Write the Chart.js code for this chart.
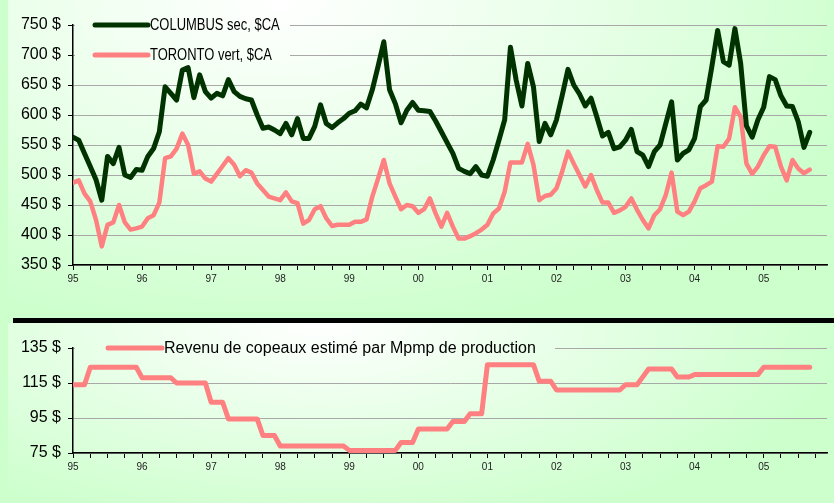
<!DOCTYPE html>
<html>
<head>
<meta charset="utf-8">
<script src="https://cdn.jsdelivr.net/npm/chart.js@4.4.0/dist/chart.umd.min.js"></script>
<style>
  html, body { margin: 0; padding: 0; }
  body {
    width: 834px; height: 503px; position: relative; overflow: hidden;
    background: #ccffcc;
    font-family: "Liberation Sans", Arial, sans-serif;
  }
  .panel { position: absolute; left: 8px; width: 826px; }
  #topPanel {
    top: 0; height: 312px;
    background: radial-gradient(ellipse 75% 110% at 33% 0%, #ffffff 0%, #eaffea 45%, #ccffcc 100%);
  }
  #bottomPanel {
    top: 323px; height: 180px;
    background: radial-gradient(ellipse 65% 120% at 38% 0%, #ffffff 0%, #eaffea 40%, #ccffcc 100%);
  }
  #bar { position: absolute; left: 13px; top: 318px; width: 821px; height: 5px; background: #000; }
  canvas { position: absolute; left: 0; }
  #prices { top: 0; }
  #revenue { top: 300px; }
</style>
</head>
<body>
<div class="panel" id="topPanel"></div>
<div class="panel" id="bottomPanel"></div>
<div id="bar"></div>
<canvas id="prices" width="834" height="310"></canvas>
<canvas id="revenue" width="834" height="203"></canvas>
<script>
// monthly data, Jan 1995 .. Sep 2005
const YEAR_LABELS = ["95", "96", "97", "98", "99", "00", "01", "02", "03", "04", "05"];

const COLUMBUS = [
  563, 558, 536, 514, 492, 458, 531, 519, 546, 500, 496, 509,
  508, 531, 544, 572, 647, 636, 625, 675, 679, 629, 667, 639,
  628, 636, 632, 659, 639, 631, 627, 625, 600, 578, 580, 575,
  569, 586, 567, 594, 561, 561, 581, 617, 586, 579, 587, 594,
  603, 607, 618, 612, 642, 681, 722, 642, 619, 587, 608, 621,
  608, 607, 606, 590, 572, 554, 536, 511, 506, 502, 514, 500,
  498, 525, 558, 592, 713, 658, 615, 686, 647, 556, 586, 567,
  592, 633, 676, 650, 635, 615, 628, 597, 565, 571, 544, 547,
  558, 576, 539, 533, 514, 539, 550, 586, 622, 525, 536, 542,
  561, 614, 625, 681, 741, 689, 683, 744, 686, 582, 563, 592,
  613, 664, 659, 632, 615, 614, 589, 546, 571
];

const TORONTO = [
  487, 491, 469, 456, 425, 381, 417, 421, 450, 421, 409, 411,
  414, 428, 433, 454, 528, 531, 544, 569, 550, 502, 506, 494,
  489, 502, 515, 528, 517, 498, 508, 504, 486, 475, 464, 461,
  458, 471, 456, 453, 419, 425, 443, 448, 428, 415, 417, 417,
  417, 422, 422, 426, 464, 494, 525, 486, 464, 443, 450, 448,
  437, 443, 461, 436, 414, 437, 414, 394, 394, 398, 403, 409,
  417, 436, 444, 472, 521, 521, 521, 552, 517, 458, 465, 467,
  478, 506, 539, 519, 500, 481, 500, 475, 454, 454, 437, 441,
  447, 461, 442, 425, 411, 433, 443, 467, 504, 439, 433, 439,
  456, 478, 483, 489, 548, 547, 561, 613, 597, 519, 502, 514,
  533, 548, 547, 514, 491, 525, 511, 503, 509
];

const REVENU = [
  114, 114, 114, 124, 124, 124, 124, 124, 124, 124, 124, 124,
  118, 118, 118, 118, 118, 118, 115, 115, 115, 115, 115, 115,
  104, 104, 104, 94.5, 94.5, 94.5, 94.5, 94.5, 94.5, 85, 85, 85,
  79, 79, 79, 79, 79, 79, 79, 79, 79, 79, 79, 79,
  76.5, 76.5, 76.5, 76.5, 76.5, 76.5, 76.5, 76.5, 76.5, 81, 81, 81,
  88.7, 88.7, 88.7, 88.7, 88.7, 88.7, 93, 93, 93, 97.5, 97.5, 97.5,
  125.5, 125.5, 125.5, 125.5, 125.5, 125.5, 125.5, 125.5, 125.5, 116, 116, 116,
  111, 111, 111, 111, 111, 111, 111, 111, 111, 111, 111, 111,
  114, 114, 114, 118.5, 123, 123, 123, 123, 123, 118.4, 118.4, 118.4,
  119.8, 119.8, 119.8, 119.8, 119.8, 119.8, 119.8, 119.8, 119.8, 119.8, 119.8, 119.8,
  124, 124, 124, 124, 124, 124, 124, 124, 124
];

const PRICE_TICKS = { min: 350, max: 750, step: 50 };
const REVENU_TICKS = { min: 75, max: 135, step: 20 };

const GREEN = "#003300";
const PINK = "#ff8080";
const GRID = "#a8a8a8";

const toPoints = (arr) => arr.map((v, i) => ({ x: i, y: v }));

// legend drawn inside the plot, gridlines under it are erased first
const insideLegend = {
  id: "insideLegend",
  beforeDatasetsDraw(chart, args, opts) {
    const ctx = chart.ctx;
    const c = opts.clear;
    ctx.save();
    ctx.globalCompositeOperation = "destination-out";
    ctx.fillRect(c.x, c.y, c.w, c.h);
    ctx.restore();
  },
  afterDatasetsDraw(chart, args, opts) {
    const ctx = chart.ctx;
    ctx.save();
    chart.data.datasets.forEach((ds, i) => {
      const y = opts.rows[i];
      ctx.strokeStyle = ds.borderColor;
      ctx.lineWidth = opts.lineWidth;
      ctx.lineCap = "round";
      ctx.beginPath();
      ctx.moveTo(opts.x1, y);
      ctx.lineTo(opts.x2, y);
      ctx.stroke();
      ctx.save();
      ctx.translate(opts.textX, y);
      ctx.scale(opts.scaleX, 1);
      ctx.fillStyle = "#000";
      ctx.font = opts.font;
      ctx.textBaseline = "middle";
      ctx.fillText(ds.label, 0, 1);
      ctx.restore();
    });
    ctx.restore();
  }
};

function monthAxis(height) {
  return {
    type: "linear",
    min: 0,
    max: 131,
    afterBuildTicks: (scale) => {
      const ticks = [];
      for (let m = 0; m <= 129; m += 3) ticks.push({ value: m });
      scale.ticks = ticks;
    },
    afterFit: (scale) => { scale.height = height; },
    grid: { drawOnChartArea: false, tickLength: 5, tickColor: "#000", tickWidth: 1 },
    border: { color: "#000", width: 1.5 },
    ticks: {
      autoSkip: false,
      maxRotation: 0,
      padding: 3,
      color: "#222",
      font: { family: "Liberation Sans", size: 10 },
      callback: (v) => (v % 12 === 0 ? YEAR_LABELS[v / 12] : "")
    }
  };
}

function dollarAxis(range) {
  return {
    min: range.min,
    max: range.max,
    afterFit: (scale) => { scale.width = 73; },
    grid: { color: GRID, lineWidth: 1, tickLength: 5, tickColor: "#000" },
    border: { color: "#000", width: 1.5 },
    ticks: {
      stepSize: range.step,
      padding: 7,
      color: "#000",
      font: { family: "Liberation Sans", size: 16 },
      callback: (v) => v + " $"
    }
  };
}

new Chart(document.getElementById("prices"), {
  type: "line",
  data: {
    datasets: [
      {
        label: "COLUMBUS sec, $CA",
        data: toPoints(COLUMBUS),
        borderColor: GREEN,
        borderWidth: 5,
        pointRadius: 0,
        borderJoinStyle: "round",
        borderCapStyle: "round"
      },
      {
        label: "TORONTO vert, $CA",
        data: toPoints(TORONTO),
        borderColor: PINK,
        borderWidth: 4.5,
        pointRadius: 0,
        borderJoinStyle: "round",
        borderCapStyle: "round"
      }
    ]
  },
  options: {
    responsive: false,
    animation: false,
    layout: { padding: { top: 25, right: 7, left: 0, bottom: 0 } },
    scales: { x: monthAxis(45), y: dollarAxis(PRICE_TICKS) },
    plugins: {
      legend: { display: false },
      tooltip: { enabled: false },
      insideLegend: {
        clear: { x: 75, y: 14, w: 215, h: 52 },
        rows: [25, 55],
        x1: 95, x2: 148, textX: 150,
        lineWidth: 5,
        font: "16px 'Liberation Sans', Arial, sans-serif",
        scaleX: 0.81
      }
    }
  },
  plugins: [insideLegend]
});

new Chart(document.getElementById("revenue"), {
  type: "line",
  data: {
    datasets: [
      {
        label: "Revenu de copeaux estimé par Mpmp de production",
        data: toPoints(REVENU),
        borderColor: PINK,
        borderWidth: 5,
        pointRadius: 0,
        borderJoinStyle: "round",
        borderCapStyle: "round"
      }
    ]
  },
  options: {
    responsive: false,
    animation: false,
    layout: { padding: { top: 48, right: 7, left: 0, bottom: 0 } },
    scales: { x: monthAxis(50), y: dollarAxis(REVENU_TICKS) },
    plugins: {
      legend: { display: false },
      tooltip: { enabled: false },
      insideLegend: {
        clear: { x: 75, y: 38, w: 480, h: 20 },
        rows: [48],
        x1: 108, x2: 162, textX: 164,
        lineWidth: 5,
        font: "16px 'Liberation Sans', Arial, sans-serif",
        scaleX: 1
      }
    }
  },
  plugins: [insideLegend]
});
</script>
</body>
</html>
